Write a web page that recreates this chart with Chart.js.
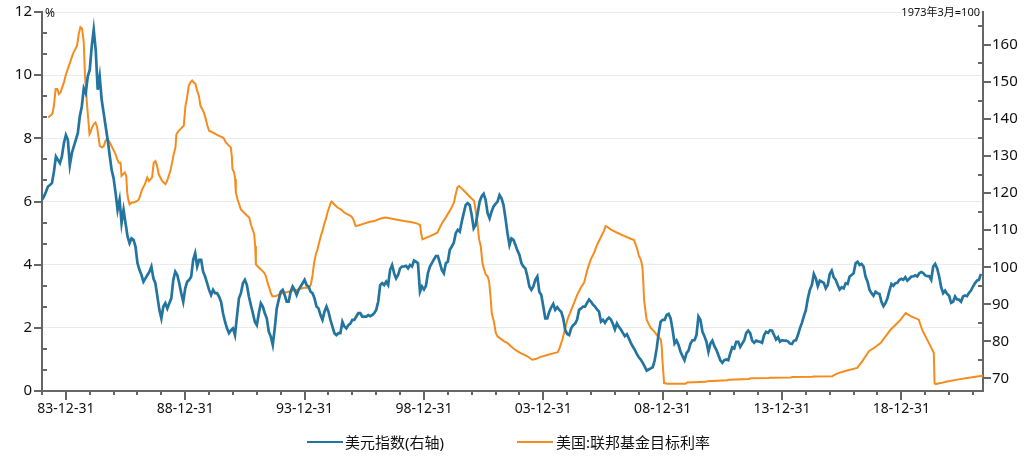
<!DOCTYPE html>
<html>
<head>
<meta charset="utf-8">
<script src="https://cdn.jsdelivr.net/npm/chart.js@4.4.1/dist/chart.umd.min.js"></script>
<style>
  html, body { margin: 0; padding: 0; background: #fff; }
  #wrap { position: relative; width: 1028px; height: 458px; font-family: "Noto Sans", "Noto Sans CJK SC", sans-serif; }
  #graphCanvas { position: absolute; left: 0; top: 0; }
  .note { position: absolute; color: #111; white-space: nowrap; }
  #legend { position: absolute; top: 432px; left: 0; width: 1028px; height: 20px; font-size: 15px; color: #111; }
  .item { position: absolute; top: 0; line-height: 20px; white-space: nowrap; }
  .swatch { position: absolute; top: 9px; width: 36px; height: 0; border-top: 2px solid; }
</style>
</head>
<body>
<div id="wrap">
  <canvas id="graphCanvas" width="1028" height="458"></canvas>
  <div class="note" style="left:45px; top:4px; font-size:12px;">%</div>
  <div class="note" style="right:48px; top:3px; font-size:11px;">1973年3月=100</div>
  <div id="legend">
    <span class="swatch" style="left:307px; border-color:#23759f;"></span>
    <span class="item" style="left:345px;">美元指数(右轴)</span>
    <span class="swatch" style="left:517px; border-color:#f68b1e;"></span>
    <span class="item" style="left:556px;">美国:联邦基金目标利率</span>
  </div>
</div>
<script>
// 美元指数, 月度数据, 从1983年1月开始
var dollarStart = 1983;
var dollarIndex = [
    118.2, 119.1, 120.4, 121.8, 122.2, 122.7, 125.8, 129.9, 129.0, 128.1,
    129.9, 133.5, 135.7, 134.4, 127.6, 130.8, 132.6, 134.4, 136.2, 140.7,
    143.4, 148.3, 147.0, 151.5, 153.3, 159.6, 164.1, 158.7, 147.9, 151.5,
    145.2, 141.6, 138.0, 134.4, 130.3, 126.3, 124.0, 120.0, 115.5, 118.2,
    111.9, 115.5, 111.9, 108.3, 106.5, 107.8, 107.4, 105.6, 101.1, 99.3,
    97.9, 96.1, 97.0, 97.9, 98.8, 100.2, 97.0, 95.7, 92.1, 88.5,
    86.2, 89.4, 90.3, 88.9, 90.3, 91.6, 96.6, 98.8, 97.9, 95.7,
    93.0, 90.7, 94.3, 96.1, 96.6, 97.5, 102.0, 103.8, 100.2, 102.0,
    102.0, 98.8, 97.5, 95.7, 93.9, 92.5, 93.9, 93.0, 93.0, 92.1,
    90.7, 87.6, 85.3, 83.5, 82.2, 83.0, 83.5, 81.7, 86.7, 91.6,
    93.0, 95.7, 96.6, 95.2, 92.1, 89.8, 87.6, 85.3, 84.4, 87.6,
    90.3, 89.4, 87.6, 86.2, 82.6, 81.3, 79.0, 83.5, 88.9, 91.2,
    93.4, 93.9, 92.5, 90.7, 90.7, 93.4, 94.8, 93.9, 92.5, 93.9,
    94.8, 95.7, 96.6, 95.2, 94.8, 93.4, 93.0, 91.6, 89.4, 88.9,
    87.1, 85.8, 88.0, 89.4, 88.0, 85.8, 84.0, 82.2, 81.7, 82.2,
    82.2, 85.3, 84.0, 83.5, 84.4, 84.8, 85.8, 85.8, 86.7, 87.6,
    87.6, 86.7, 86.7, 86.7, 87.1, 86.8, 87.1, 87.6, 88.5, 90.7,
    95.2, 95.7, 95.2, 96.1, 95.2, 99.3, 100.6, 98.4, 97.0, 97.9,
    99.7, 100.2, 100.2, 100.4, 99.7, 100.6, 100.2, 101.8, 101.5, 101.1,
    93.4, 94.8, 94.0, 95.0, 98.4, 100.2, 101.1, 102.1, 103.0, 103.0,
    101.2, 99.3, 98.4, 101.1, 101.5, 104.7, 105.6, 106.6, 109.2, 110.1,
    109.6, 112.3, 114.6, 116.8, 117.3, 116.8, 114.1, 110.5, 111.4, 114.6,
    117.7, 119.1, 119.8, 118.2, 114.6, 113.2, 115.0, 116.4, 117.1, 117.7,
    119.5, 118.6, 116.8, 113.2, 109.2, 106.0, 107.8, 107.4, 106.0, 104.5,
    103.3, 101.1, 100.2, 99.7, 97.5, 94.8, 93.9, 94.8, 96.6, 97.5,
    93.4, 92.5, 89.4, 86.2, 86.2, 88.0, 89.2, 90.1, 88.5, 89.2,
    88.5, 88.0, 86.2, 83.1, 82.0, 81.7, 83.5, 84.4, 84.8, 85.9,
    88.5, 88.9, 89.4, 89.4, 90.4, 91.3, 90.7, 89.9, 89.4, 88.6,
    88.0, 85.3, 85.8, 85.0, 85.9, 86.4, 85.9, 84.7, 83.2, 84.8,
    83.9, 83.2, 82.3, 81.4, 81.9, 80.8, 79.6, 78.6, 77.7, 76.6,
    75.7, 75.1, 74.2, 73.2, 72.1, 72.4, 72.7, 73.0, 74.9, 78.1,
    82.2, 85.3, 85.8, 85.8, 87.1, 87.4, 86.2, 83.1, 79.4, 80.2,
    79.0, 77.2, 76.0, 74.9, 76.8, 77.5, 79.4, 80.3, 80.3, 81.7,
    86.7, 85.8, 82.6, 81.4, 79.9, 77.2, 79.4, 80.2, 78.7, 77.7,
    76.3, 74.9, 74.2, 74.9, 75.1, 74.9, 76.8, 78.4, 78.1, 79.9,
    79.9, 78.5, 79.4, 80.3, 82.2, 82.9, 82.2, 80.2, 79.6, 80.2,
    80.0, 79.9, 79.6, 81.7, 82.6, 82.3, 83.0, 82.9, 81.7, 80.5,
    81.1, 79.9, 80.3, 80.2, 80.2, 80.0, 79.4, 79.3, 80.2, 80.3,
    81.7, 83.5, 85.0, 86.8, 88.5, 91.6, 93.9, 95.2, 98.2, 97.0,
    94.9, 96.4, 96.1, 95.8, 94.3, 95.2, 98.2, 99.1, 97.3, 96.6,
    95.2, 94.0, 94.6, 94.3, 95.7, 95.5, 97.5, 97.9, 98.4, 101.1,
    101.5, 100.6, 100.9, 100.2, 97.5, 96.1, 93.9, 93.0, 92.3, 93.4,
    93.0, 92.8, 90.7, 89.5, 90.3, 91.6, 93.7, 95.5, 95.0, 95.7,
    95.8, 96.6, 96.9, 96.6, 97.3, 96.4, 96.9, 97.5, 97.5, 97.8,
    97.5, 98.4, 98.7, 98.4, 97.8, 97.6, 97.6, 96.6, 100.2, 100.9,
    99.7, 97.5, 94.6, 93.0, 93.7, 92.8, 92.3, 90.4, 90.7, 92.1,
    91.3, 91.3, 90.7, 92.1, 92.4, 92.2, 93.1, 93.7, 94.8, 95.7,
    96.4, 96.6, 98.2
];

// 联邦基金目标利率 (年份小数, %)
var fedDates = [
    1983.26, 1983.43, 1983.50, 1983.57, 1983.64, 1983.71, 1983.78, 1983.85, 1983.92, 1983.99,
    1984.06, 1984.13, 1984.20, 1984.27, 1984.33, 1984.40, 1984.47, 1984.54, 1984.61, 1984.68,
    1984.75, 1984.80, 1984.85, 1984.89, 1984.96, 1984.99, 1985.03, 1985.10, 1985.17, 1985.24,
    1985.31, 1985.38, 1985.42, 1985.52, 1985.59, 1985.66, 1985.73, 1985.80, 1985.87, 1985.94,
    1986.01, 1986.08, 1986.15, 1986.22, 1986.29, 1986.33, 1986.39, 1986.47, 1986.53, 1986.57,
    1986.61, 1986.67, 1986.75, 1986.85, 1986.99, 1987.06, 1987.13, 1987.20, 1987.31, 1987.41,
    1987.48, 1987.55, 1987.61, 1987.68, 1987.75, 1987.82, 1987.89, 1987.96, 1988.03, 1988.10,
    1988.17, 1988.24, 1988.31, 1988.38, 1988.45, 1988.52, 1988.59, 1988.63, 1988.73, 1988.80,
    1988.87, 1988.94, 1988.98, 1989.01, 1989.08, 1989.15, 1989.22, 1989.29, 1989.36, 1989.43,
    1989.50, 1989.57, 1989.64, 1989.71, 1989.78, 1989.86, 1989.93, 1990.00, 1990.14, 1990.28,
    1990.42, 1990.56, 1990.63, 1990.70, 1990.84, 1990.91, 1990.95, 1990.98, 1991.05, 1991.09,
    1991.12, 1991.19, 1991.33, 1991.40, 1991.54, 1991.68, 1991.75, 1991.82, 1991.89, 1991.93,
    1991.96, 1992.03, 1992.17, 1992.31, 1992.38, 1992.45, 1992.52, 1992.58, 1992.65, 1992.79,
    1992.93, 1993.14, 1993.42, 1993.70, 1993.98, 1994.19, 1994.26, 1994.33, 1994.40, 1994.47,
    1994.54, 1994.61, 1994.68, 1994.75, 1994.82, 1994.89, 1994.96, 1995.03, 1995.10, 1995.14,
    1995.24, 1995.38, 1995.52, 1995.66, 1995.80, 1995.94, 1996.00, 1996.07, 1996.14, 1996.28,
    1996.49, 1996.70, 1996.91, 1997.19, 1997.40, 1997.61, 1997.89, 1998.17, 1998.45, 1998.73,
    1998.84, 1998.89, 1998.94, 1999.08, 1999.28, 1999.56, 1999.63, 1999.77, 1999.91, 2000.12,
    2000.26, 2000.33, 2000.40, 2000.47, 2000.54, 2000.68, 2000.82, 2000.96, 2001.10, 2001.17,
    2001.24, 2001.31, 2001.38, 2001.45, 2001.52, 2001.59, 2001.66, 2001.73, 2001.80, 2001.84,
    2001.94, 2002.01, 2002.08, 2002.22, 2002.36, 2002.50, 2002.64, 2002.78, 2002.91, 2003.05,
    2003.19, 2003.33, 2003.54, 2003.68, 2003.89, 2004.17, 2004.45, 2004.59, 2004.66, 2004.73,
    2004.80, 2004.87, 2004.94, 2005.01, 2005.15, 2005.29, 2005.43, 2005.57, 2005.71, 2005.78,
    2005.85, 2005.92, 2005.99, 2006.13, 2006.26, 2006.40, 2006.54, 2006.61, 2006.68, 2006.82,
    2007.10, 2007.38, 2007.66, 2007.80, 2007.87, 2007.94, 2008.01, 2008.08, 2008.15, 2008.19,
    2008.22, 2008.29, 2008.33, 2008.43, 2008.50, 2008.64, 2008.78, 2008.92, 2008.96, 2008.99,
    2009.03, 2009.06, 2009.20, 2009.96, 2010.03, 2010.80, 2010.87, 2011.71, 2011.78, 2012.62,
    2012.69, 2013.45, 2013.52, 2014.36, 2014.43, 2015.27, 2015.34, 2016.11, 2016.18, 2016.31,
    2016.45, 2016.59, 2016.73, 2017.15, 2017.36, 2017.64, 2017.85, 2018.13, 2018.34, 2018.55,
    2018.76, 2018.97, 2019.18, 2019.39, 2019.73, 2019.87, 2020.01, 2020.22, 2020.36, 2020.39,
    2020.43, 2020.64, 2020.92, 2021.34, 2021.76, 2022.18, 2022.43
];
var fedRates = [
    8.66, 8.77, 9.03, 9.56, 9.56, 9.40, 9.46, 9.62, 9.77, 9.99,
    10.15, 10.30, 10.46, 10.62, 10.73, 10.83, 10.94, 11.31, 11.52, 11.47,
    11.04, 9.99, 9.46, 9.03, 8.40, 8.13, 8.19, 8.35, 8.45, 8.50,
    8.35, 7.98, 7.76, 7.71, 7.76, 7.92, 7.98, 7.92, 7.82, 7.71,
    7.61, 7.50, 7.34, 7.23, 7.23, 6.81, 6.86, 6.92, 6.81, 6.28,
    6.07, 5.91, 5.97, 5.97, 6.02, 6.07, 6.23, 6.39, 6.55, 6.76,
    6.65, 6.71, 6.76, 7.23, 7.28, 7.13, 6.86, 6.76, 6.65, 6.60,
    6.55, 6.65, 6.81, 6.97, 7.23, 7.50, 7.71, 8.13, 8.24, 8.29,
    8.35, 8.40, 8.77, 9.03, 9.30, 9.67, 9.77, 9.83, 9.77, 9.72,
    9.51, 9.35, 9.03, 8.93, 8.82, 8.61, 8.40, 8.24, 8.19, 8.13,
    8.08, 8.03, 7.98, 7.87, 7.76, 7.71, 7.45, 7.02, 6.92, 6.71,
    6.28, 6.07, 5.75, 5.70, 5.59, 5.49, 5.28, 5.12, 4.96, 4.59,
    4.01, 3.95, 3.85, 3.74, 3.64, 3.43, 3.27, 3.11, 3.00, 3.00,
    3.06, 3.11, 3.16, 3.21, 3.27, 3.27, 3.37, 3.64, 4.06, 4.32,
    4.48, 4.70, 4.91, 5.07, 5.28, 5.44, 5.65, 5.81, 5.97, 6.00,
    5.91, 5.81, 5.75, 5.65, 5.59, 5.54, 5.49, 5.38, 5.22, 5.25,
    5.30, 5.35, 5.38, 5.46, 5.49, 5.46, 5.42, 5.38, 5.35, 5.30,
    5.25, 4.96, 4.80, 4.85, 4.91, 5.01, 5.12, 5.33, 5.49, 5.75,
    5.97, 6.23, 6.44, 6.49, 6.44, 6.34, 6.23, 6.12, 6.02, 5.70,
    5.33, 4.80, 4.59, 4.06, 3.85, 3.69, 3.64, 3.48, 2.90, 2.47,
    2.16, 1.84, 1.73, 1.65, 1.57, 1.52, 1.42, 1.33, 1.26, 1.20,
    1.15, 1.10, 0.99, 1.01, 1.08, 1.14, 1.20, 1.22, 1.31, 1.47,
    1.63, 1.84, 2.05, 2.26, 2.53, 2.79, 3.06, 3.27, 3.43, 3.64,
    3.85, 4.01, 4.17, 4.38, 4.64, 4.85, 5.07, 5.22, 5.20, 5.12,
    5.01, 4.91, 4.82, 4.78, 4.64, 4.48, 4.27, 4.17, 3.95, 3.43,
    2.90, 2.47, 2.26, 2.10, 2.00, 1.89, 1.75, 1.63, 1.42, 0.99,
    0.57, 0.25, 0.23, 0.23, 0.27, 0.29, 0.31, 0.34, 0.36, 0.38,
    0.40, 0.41, 0.42, 0.43, 0.44, 0.45, 0.46, 0.47, 0.50, 0.55,
    0.59, 0.62, 0.65, 0.73, 0.94, 1.26, 1.36, 1.52, 1.73, 1.94,
    2.10, 2.26, 2.47, 2.37, 2.26, 1.94, 1.73, 1.42, 1.20, 0.25,
    0.22, 0.25, 0.30, 0.36, 0.41, 0.46, 0.48
];

// 横轴刻度: 每年一个小刻度, 每5年一个标签
var majorYears = [1984, 1989, 1994, 1999, 2004, 2009, 2014, 2019];
var xTickLabels = ['83-12-31', '88-12-31', '93-12-31', '98-12-31', '03-12-31', '08-12-31', '13-12-31', '18-12-31'];
var leftTicks = [0, 2, 4, 6, 8, 10, 12];
var rightTicks = [70, 80, 90, 100, 110, 120, 130, 140, 150, 160];

var blueColor = '#23759f';
var orangeColor = '#f68b1e';
var axisColor = '#666666';

var dollarPoints = dollarIndex.map(function (v, i) {
    return { x: dollarStart + i / 12, y: v };
});
var fedPoints = fedRates.map(function (v, i) {
    return { x: fedDates[i], y: v };
});

// 画刻度线 (主刻度朝外, 次刻度朝内)
var tickMarks = {
    id: 'tickMarks',
    afterDraw: function (chart) {
        var ctx = chart.ctx;
        var a = chart.chartArea;
        var s = chart.scales;
        ctx.save();
        ctx.strokeStyle = axisColor;
        ctx.lineWidth = 2;
        ctx.beginPath();
        // 左轴
        for (var k = 0; k <= 18; k++) {
            var y = Math.round(s.y.getPixelForValue(k * 2 / 3));
            if (k % 3 === 0) {
                ctx.moveTo(a.left - 8, y); ctx.lineTo(a.left, y);
            } else {
                ctx.moveTo(a.left, y); ctx.lineTo(a.left + 5, y);
            }
        }
        // 右轴
        for (var v = 70; v <= 165; v += 5) {
            var yr = Math.round(s.y1.getPixelForValue(v));
            if (v % 10 === 0) {
                ctx.moveTo(a.right, yr); ctx.lineTo(a.right + 8, yr);
            } else {
                ctx.moveTo(a.right, yr); ctx.lineTo(a.right - 5, yr);
            }
        }
        // 横轴
        for (var year = 1983; year <= 2022; year++) {
            var x = Math.round(s.x.getPixelForValue(year));
            if (x < a.left - 1 || x > a.right + 1) continue;
            var len = majorYears.indexOf(year) >= 0 ? 9 : 4;
            ctx.moveTo(x, a.bottom); ctx.lineTo(x, a.bottom + len);
        }
        ctx.stroke();
        ctx.restore();
    }
};

// 固定坐标轴尺寸, 去掉标签带来的额外留白
function fixWidth(w) {
    return function (scale) {
        scale.width = w;
        scale.paddingTop = 0;
        scale.paddingBottom = 0;
    };
}

var tickFont = { family: '"Noto Sans", "Noto Sans CJK SC", sans-serif', size: 15 };

var lineGraph = new Chart(document.getElementById('graphCanvas'), {
    type: 'line',
    data: {
        datasets: [
            {
                label: '美元指数(右轴)',
                data: dollarPoints,
                yAxisID: 'y1',
                borderColor: blueColor,
                borderWidth: 2.7,
                pointRadius: 0,
                tension: 0,
                fill: false
            },
            {
                label: '美国:联邦基金目标利率',
                data: fedPoints,
                yAxisID: 'y',
                borderColor: orangeColor,
                borderWidth: 2,
                pointRadius: 0,
                tension: 0,
                fill: false
            }
        ]
    },
    options: {
        responsive: false,
        animation: false,
        layout: { padding: { top: 12, left: 0, right: 0, bottom: 0 } },
        plugins: {
            legend: { display: false },
            tooltip: { enabled: false }
        },
        scales: {
            x: {
                type: 'linear',
                min: 1983.0,
                max: 2022.42,
                grid: { display: false, drawTicks: false },
                border: { display: true, color: axisColor, width: 2 },
                afterBuildTicks: function (scale) {
                    scale.ticks = majorYears.map(function (yr) { return { value: yr }; });
                },
                ticks: {
                    autoSkip: false,
                    maxRotation: 0,
                    padding: 10,
                    color: '#111',
                    font: { family: tickFont.family, size: 14 },
                    callback: function (value) {
                        var i = majorYears.indexOf(Math.round(value));
                        return i >= 0 ? xTickLabels[i] : '';
                    }
                },
                afterFit: function (scale) {
                    scale.height = 67;
                    scale.paddingLeft = 0;
                    scale.paddingRight = 0;
                }
            },
            y: {
                position: 'left',
                min: 0,
                max: 12,
                grid: { color: '#ebebeb', lineWidth: 1, drawTicks: false },
                border: { display: true, color: axisColor, width: 2 },
                afterBuildTicks: function (scale) {
                    scale.ticks = leftTicks.map(function (v) { return { value: v }; });
                },
                ticks: { padding: 10, color: '#111', font: tickFont },
                afterFit: fixWidth(42)
            },
            y1: {
                position: 'right',
                min: 66.6,
                max: 168.9,
                grid: { display: false, drawTicks: false },
                border: { display: true, color: axisColor, width: 2 },
                afterBuildTicks: function (scale) {
                    scale.ticks = rightTicks.map(function (v) { return { value: v }; });
                },
                ticks: { padding: 9, color: '#111', font: tickFont },
                afterFit: fixWidth(45)
            }
        }
    },
    plugins: [tickMarks]
});
</script>
</body>
</html>
